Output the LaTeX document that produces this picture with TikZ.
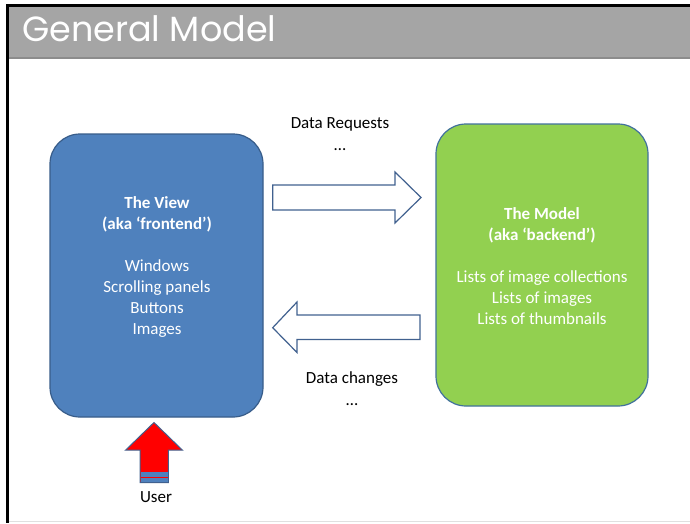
\documentclass[tikz,border=0pt]{standalone}
\usepackage{fontspec}
\setmainfont{Carlito}
\newfontfamily\headfont{Poppins}
\definecolor{viewblue}{HTML}{4F81BD}
\definecolor{viewedge}{HTML}{385D8A}
\definecolor{modelgreen}{HTML}{92D050}
\definecolor{modeledge}{HTML}{41719C}
\definecolor{arrowedge}{HTML}{41618F}
\definecolor{headgray}{HTML}{A5A5A5}
\definecolor{headline}{HTML}{8C8C8C}
\tikzset{
  bigbox/.style={rectangle, rounded corners=30pt, line width=1.2pt, inner sep=0pt},
  boxtext/.style={text=white, align=center, font=\fontsize{17}{21}\selectfont},
  lbl/.style={text=black, align=center, font=\fontsize{17}{22}\selectfont},
  blockarrow/.style={draw=arrowedge, fill=white, line width=1.2pt, line join=miter},
}
\begin{document}
\begin{tikzpicture}[x=1pt,y=-1pt]
\useasboundingbox (0,0) rectangle (690,523);
\fill[white] (0,0) rectangle (690,523);
% header
\fill[headgray] (6,5) rectangle (690,58);
\draw[headline, line width=1.5pt] (9,58) -- (690,58);
\fill[black] (6,4) rectangle (690,7);
\fill[black] (6,4) rectangle (9,523);
\draw[black!12, line width=1pt] (9,521) -- (690,521);
\node[anchor=base west, inner sep=0pt, text=white, font=\headfont\fontsize{35}{38}\selectfont] (title) at (22,41) {General Model};
% boxes
\node[bigbox, fill=viewblue, draw=viewedge, minimum width=213pt, minimum height=283pt] (view) at (156.5,275.5) {};
\node[bigbox, fill=modelgreen, draw=modeledge, minimum width=212pt, minimum height=282pt] (model) at (542,265) {};
\node[boxtext] (viewtext) at (157,267) {\textbf{The View}\\\textbf{(aka ‘frontend’)}\\[21pt]Windows\\Scrolling panels\\Buttons\\Images};
\node[boxtext] (modeltext) at (542,266) {\textbf{The Model}\\\textbf{(aka ‘backend’)}\\[21pt]Lists of image collections\\Lists of images\\Lists of thumbnails};
% block arrows
\draw[blockarrow] (272.7,185) -- (395,185) -- (395,172) -- (421,197.5) -- (395,223) -- (395,210) -- (272.7,210) -- cycle;
\draw[blockarrow] (420,315) -- (297,315) -- (297,302) -- (272.7,327.7) -- (297,352.5) -- (297,339.5) -- (420,339.5) -- cycle;
\node[lbl] (req) at (340,134) {Data Requests\\\ldots};
\node[lbl] (chg) at (352,389) {Data changes\\\ldots};
% user arrow
\draw[fill=red, draw=arrowedge, line width=1pt, line join=miter] (154,422.5) -- (182.3,450) -- (168.3,450) -- (168.3,482.7) -- (140,482.7) -- (140,450) -- (125.7,450) -- cycle;
\fill[viewblue] (140.5,472) rectangle (167.8,482.2);
\draw[red, line width=0.8pt] (141,477) -- (167.5,477);
\node[lbl] (user) at (156,497) {User};
\end{tikzpicture}
\end{document}
